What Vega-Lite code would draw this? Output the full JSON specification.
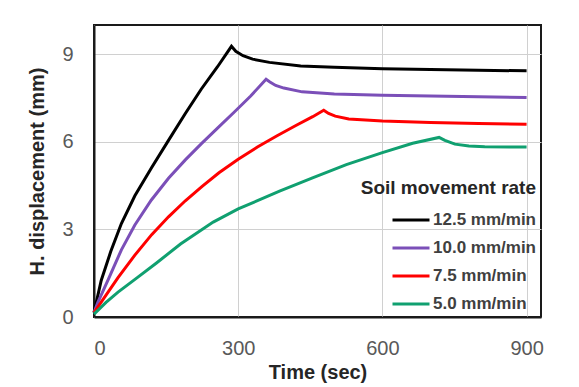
{
  "$schema": "https://vega.github.io/schema/vega-lite/v6.json",
  "width": 447,
  "height": 292,
  "autosize": "none",
  "padding": {"left": 94, "top": 25, "right": 38, "bottom": 70},
  "config": {"view": {"stroke": "#1a1a1a", "strokeWidth": 2}},
  "datasets": {
    "curves": [
      {"t": 0, "d": 0.15, "rate": "12.5 mm/min"},
      {"t": 15, "d": 1.25, "rate": "12.5 mm/min"},
      {"t": 35, "d": 2.25, "rate": "12.5 mm/min"},
      {"t": 57, "d": 3.2, "rate": "12.5 mm/min"},
      {"t": 85, "d": 4.15, "rate": "12.5 mm/min"},
      {"t": 120, "d": 5.12, "rate": "12.5 mm/min"},
      {"t": 155, "d": 6.05, "rate": "12.5 mm/min"},
      {"t": 190, "d": 6.97, "rate": "12.5 mm/min"},
      {"t": 223, "d": 7.8, "rate": "12.5 mm/min"},
      {"t": 257, "d": 8.57, "rate": "12.5 mm/min"},
      {"t": 286, "d": 9.27, "rate": "12.5 mm/min"},
      {"t": 295, "d": 9.1, "rate": "12.5 mm/min"},
      {"t": 310, "d": 8.95, "rate": "12.5 mm/min"},
      {"t": 330, "d": 8.83, "rate": "12.5 mm/min"},
      {"t": 365, "d": 8.72, "rate": "12.5 mm/min"},
      {"t": 430, "d": 8.6, "rate": "12.5 mm/min"},
      {"t": 500, "d": 8.55, "rate": "12.5 mm/min"},
      {"t": 600, "d": 8.5, "rate": "12.5 mm/min"},
      {"t": 700, "d": 8.48, "rate": "12.5 mm/min"},
      {"t": 800, "d": 8.45, "rate": "12.5 mm/min"},
      {"t": 900, "d": 8.43, "rate": "12.5 mm/min"},

      {"t": 0, "d": 0.15, "rate": "10.0 mm/min"},
      {"t": 8, "d": 0.5, "rate": "10.0 mm/min"},
      {"t": 30, "d": 1.3, "rate": "10.0 mm/min"},
      {"t": 57, "d": 2.3, "rate": "10.0 mm/min"},
      {"t": 85, "d": 3.15, "rate": "10.0 mm/min"},
      {"t": 119, "d": 4.0, "rate": "10.0 mm/min"},
      {"t": 155, "d": 4.75, "rate": "10.0 mm/min"},
      {"t": 190, "d": 5.38, "rate": "10.0 mm/min"},
      {"t": 223, "d": 5.93, "rate": "10.0 mm/min"},
      {"t": 257, "d": 6.47, "rate": "10.0 mm/min"},
      {"t": 292, "d": 7.02, "rate": "10.0 mm/min"},
      {"t": 326, "d": 7.57, "rate": "10.0 mm/min"},
      {"t": 358, "d": 8.14, "rate": "10.0 mm/min"},
      {"t": 366, "d": 8.05, "rate": "10.0 mm/min"},
      {"t": 378, "d": 7.93, "rate": "10.0 mm/min"},
      {"t": 395, "d": 7.84, "rate": "10.0 mm/min"},
      {"t": 433, "d": 7.71, "rate": "10.0 mm/min"},
      {"t": 500, "d": 7.64, "rate": "10.0 mm/min"},
      {"t": 600, "d": 7.59, "rate": "10.0 mm/min"},
      {"t": 700, "d": 7.57, "rate": "10.0 mm/min"},
      {"t": 800, "d": 7.54, "rate": "10.0 mm/min"},
      {"t": 900, "d": 7.52, "rate": "10.0 mm/min"},

      {"t": 0, "d": 0.15, "rate": "7.5 mm/min"},
      {"t": 25, "d": 0.75, "rate": "7.5 mm/min"},
      {"t": 50, "d": 1.35, "rate": "7.5 mm/min"},
      {"t": 85, "d": 2.12, "rate": "7.5 mm/min"},
      {"t": 120, "d": 2.82, "rate": "7.5 mm/min"},
      {"t": 155, "d": 3.43, "rate": "7.5 mm/min"},
      {"t": 190, "d": 3.98, "rate": "7.5 mm/min"},
      {"t": 225, "d": 4.47, "rate": "7.5 mm/min"},
      {"t": 260, "d": 4.94, "rate": "7.5 mm/min"},
      {"t": 300, "d": 5.4, "rate": "7.5 mm/min"},
      {"t": 340, "d": 5.82, "rate": "7.5 mm/min"},
      {"t": 380, "d": 6.2, "rate": "7.5 mm/min"},
      {"t": 420, "d": 6.56, "rate": "7.5 mm/min"},
      {"t": 455, "d": 6.86, "rate": "7.5 mm/min"},
      {"t": 478, "d": 7.08, "rate": "7.5 mm/min"},
      {"t": 488, "d": 6.97, "rate": "7.5 mm/min"},
      {"t": 502, "d": 6.88, "rate": "7.5 mm/min"},
      {"t": 530, "d": 6.78, "rate": "7.5 mm/min"},
      {"t": 600, "d": 6.71, "rate": "7.5 mm/min"},
      {"t": 700, "d": 6.66, "rate": "7.5 mm/min"},
      {"t": 800, "d": 6.63, "rate": "7.5 mm/min"},
      {"t": 900, "d": 6.6, "rate": "7.5 mm/min"},

      {"t": 0, "d": 0.1, "rate": "5.0 mm/min"},
      {"t": 25, "d": 0.5, "rate": "5.0 mm/min"},
      {"t": 50, "d": 0.85, "rate": "5.0 mm/min"},
      {"t": 90, "d": 1.35, "rate": "5.0 mm/min"},
      {"t": 130, "d": 1.85, "rate": "5.0 mm/min"},
      {"t": 180, "d": 2.5, "rate": "5.0 mm/min"},
      {"t": 248, "d": 3.25, "rate": "5.0 mm/min"},
      {"t": 300, "d": 3.7, "rate": "5.0 mm/min"},
      {"t": 386, "d": 4.31, "rate": "5.0 mm/min"},
      {"t": 456, "d": 4.77, "rate": "5.0 mm/min"},
      {"t": 525, "d": 5.22, "rate": "5.0 mm/min"},
      {"t": 600, "d": 5.63, "rate": "5.0 mm/min"},
      {"t": 663, "d": 5.95, "rate": "5.0 mm/min"},
      {"t": 718, "d": 6.15, "rate": "5.0 mm/min"},
      {"t": 730, "d": 6.05, "rate": "5.0 mm/min"},
      {"t": 751, "d": 5.92, "rate": "5.0 mm/min"},
      {"t": 780, "d": 5.86, "rate": "5.0 mm/min"},
      {"t": 813, "d": 5.83, "rate": "5.0 mm/min"},
      {"t": 900, "d": 5.82, "rate": "5.0 mm/min"}
    ]
  },
  "data": {"name": "curves"},
  "mark": {"type": "line", "strokeWidth": 3},
  "encoding": {
    "x": {
      "field": "t",
      "type": "quantitative",
      "scale": {"domain": [0, 930], "nice": false},
      "axis": {
        "title": "Time (sec)",
        "tickCount": 10,
        "labelExpr": "datum.value % 300 === 0 ? datum.label : ''",
        "grid": true,
        "gridColor": "#d0d0d0",
        "gridOpacity": {"condition": {"test": "datum.value % 300 === 0", "value": 1}, "value": 0},
        "domainColor": "#1a1a1a",
        "domainWidth": 2,
        "tickSize": 5,
        "tickOpacity": 0,
        "labelPadding": 16,
        "labelFontSize": 20,
        "labelColor": "#595959",
        "titleFontSize": 20,
        "titleFontWeight": "bold",
        "titleColor": "#262626",
        "titlePadding": 4
      }
    },
    "y": {
      "field": "d",
      "type": "quantitative",
      "scale": {"domain": [0, 10], "nice": false},
      "axis": {
        "title": "H. displacement (mm)",
        "tickCount": 10,
        "labelExpr": "datum.value % 3 === 0 ? datum.label : ''",
        "grid": true,
        "gridColor": "#d0d0d0",
        "gridOpacity": {"condition": {"test": "datum.value % 3 === 0", "value": 1}, "value": 0},
        "domainColor": "#1a1a1a",
        "domainWidth": 2,
        "tickSize": 5,
        "tickOpacity": 0,
        "labelPadding": 16,
        "labelFontSize": 20,
        "labelColor": "#595959",
        "titleFontSize": 20,
        "titleFontWeight": "bold",
        "titleColor": "#262626",
        "titlePadding": 14
      }
    },
    "color": {
      "field": "rate",
      "type": "nominal",
      "scale": {
        "domain": ["12.5 mm/min", "10.0 mm/min", "7.5 mm/min", "5.0 mm/min"],
        "range": ["#000000", "#7B4FB8", "#FF0000", "#10A070"]
      },
      "legend": {
        "title": "Soil movement rate",
        "orient": "bottom-right",
        "offset": 5,
        "padding": 0,
        "titleFontSize": 19,
        "titleFontWeight": "bold",
        "titleColor": "#262626",
        "titleAnchor": "end",
        "titlePadding": 2,
        "labelFontSize": 17,
        "labelFontWeight": "bold",
        "labelColor": "#404040",
        "labelOffset": 2,
        "symbolType": "stroke",
        "symbolSize": 1369,
        "symbolStrokeWidth": 3,
        "rowPadding": 0
      }
    }
  }
}
